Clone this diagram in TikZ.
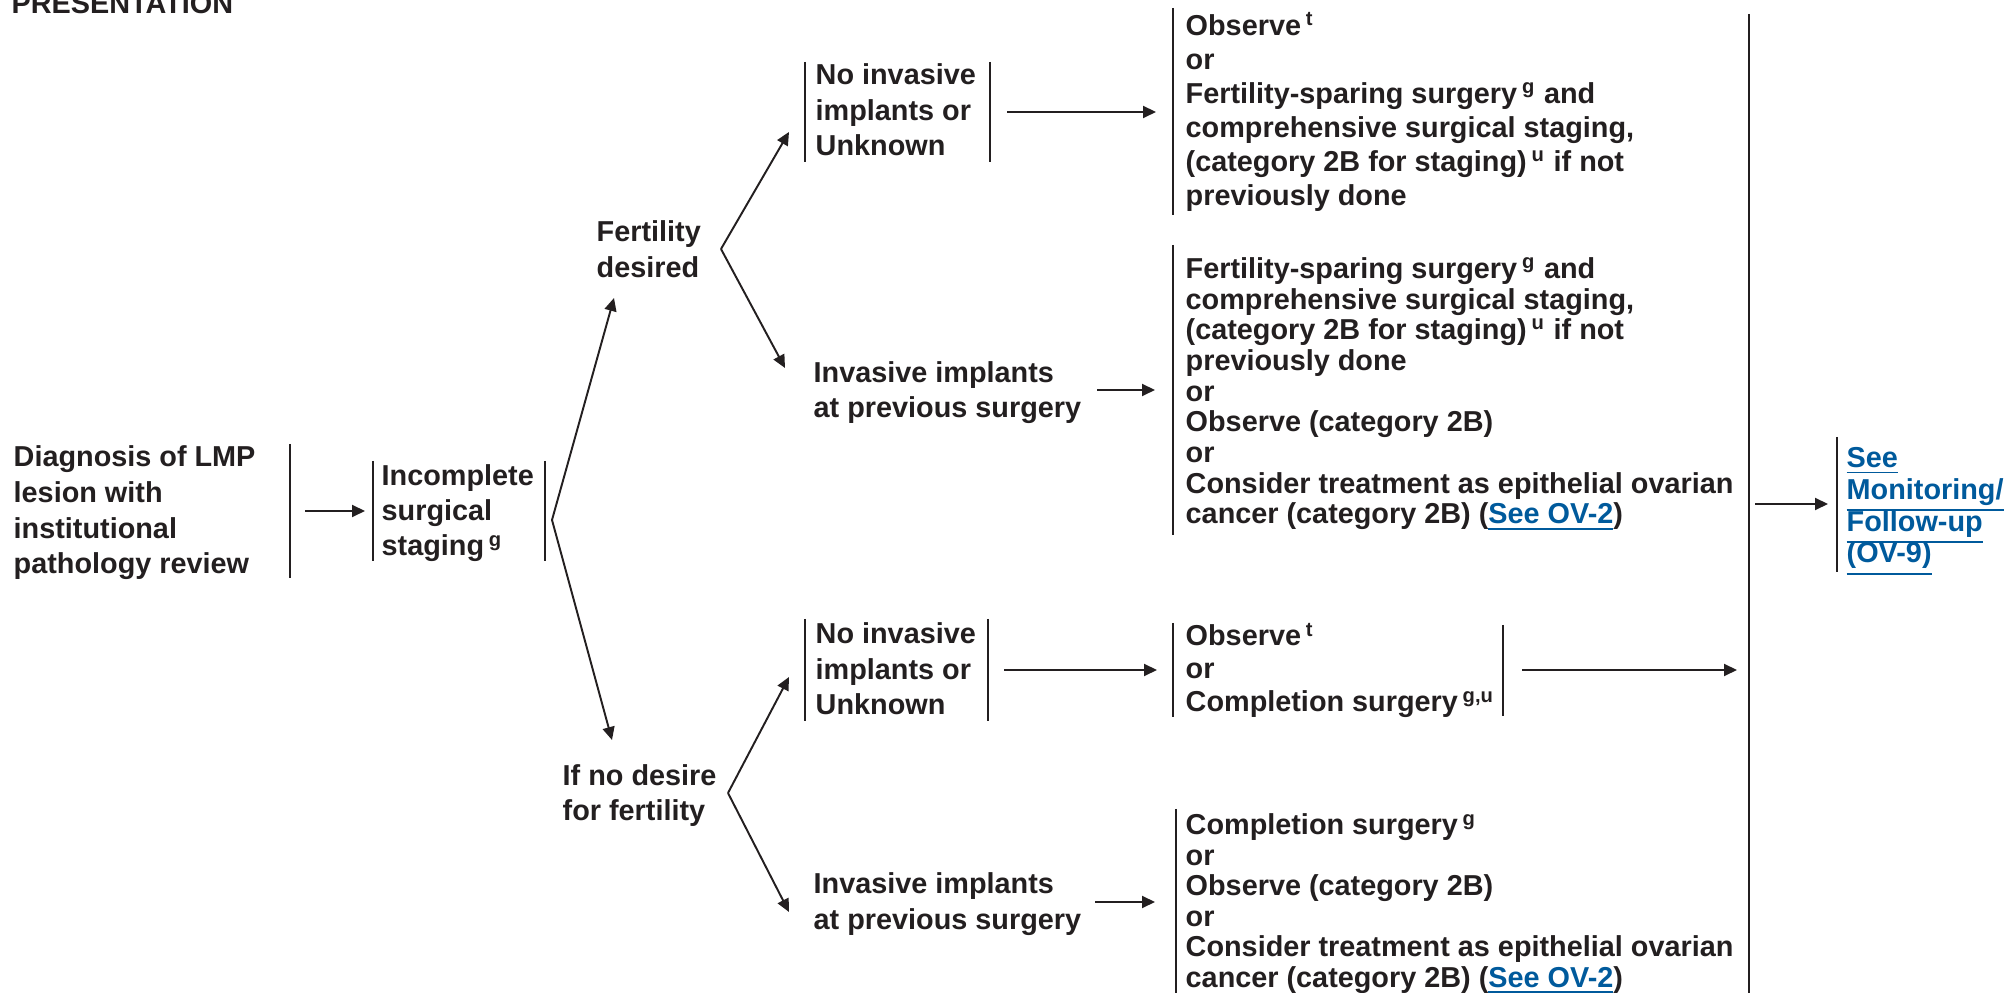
\documentclass[tikz,border=0pt]{standalone}
\usepackage{fontspec}
\setmainfont{Liberation Sans}
\usetikzlibrary{arrows.meta}
\definecolor{text_dark}{RGB}{35,31,32}
\definecolor{link_blue}{RGB}{0,90,156}
\newcommand{\ovlink}[1]{\textcolor{link_blue}{\underline{#1}}}
\lineskiplimit=-5pt

\begin{document}
\begin{tikzpicture}[x=0.1mm,y=-0.1mm,>={Triangle[length=1.3mm,width=1.2mm]}]
    \tikzset{txt/.style={text=text_dark, anchor=base west, align=left, inner sep=0pt,
        font=\bfseries\fontsize{8.2}{#1}\selectfont}, txt/.default=10.1}
    \tikzstyle{barline}=[draw=text_dark, line width=0.75pt]
    \tikzstyle{arr}=[draw=text_dark, line width=0.55pt, ->]

    \useasboundingbox (0,0) rectangle (2007,993);

    % text blocks, placed by the baseline of their last line
    \node[txt] (title) at (11,14) {PRESENTATION};
    \node[txt=10.24] (diag) at (13,574) {Diagnosis of LMP\\lesion with\\institutional\\pathology review};
    \node[txt] (inc) at (381,556) {Incomplete\\surgical\\staging\,\textsuperscript{g}};
    \node[txt=10.5] (fd) at (596,278) {Fertility\\desired};
    \node[txt=10.24] (nd) at (562,821) {If no desire\\for fertility};

    \node[txt] (ni1) at (815,156) {No invasive\\implants or\\Unknown};
    \node[txt=10.24] (inv1) at (813,418) {Invasive implants\\at previous surgery};
    \node[txt=10.24] (ni2) at (815,715) {No invasive\\implants or\\Unknown};
    \node[txt=10.5] (inv2) at (813,930) {Invasive implants\\at previous surgery};

    \node[txt=9.73] (obs1) at (1185,206) {Observe\,\textsuperscript{t}\\or\\Fertility-sparing surgery\,\textsuperscript{g} and\\comprehensive surgical staging,\\(category 2B for staging)\,\textsuperscript{u} if not\\previously done};
    \node[txt=8.73] (fsp) at (1185,524) {Fertility-sparing surgery\,\textsuperscript{g} and\\comprehensive surgical staging,\\(category 2B for staging)\,\textsuperscript{u} if not\\previously done\\or\\Observe (category 2B)\\or\\Consider treatment as epithelial ovarian\\cancer (category 2B) (\ovlink{See OV-2})};
    \node[txt=9.39] (obs2) at (1185,712) {Observe\,\textsuperscript{t}\\or\\Completion surgery\,\textsuperscript{g,u}};
    \node[txt=8.65] (comp) at (1185,987) {Completion surgery\,\textsuperscript{g}\\or\\Observe (category 2B)\\or\\Consider treatment as epithelial ovarian\\cancer (category 2B) (\ovlink{See OV-2})};

    \node[txt=9.1] (see) at (1846,563) {\ovlink{See}\\\ovlink{Monitoring/}\\\ovlink{Follow-up}\\\ovlink{(OV-9)}};

    % side bars
    \foreach \x/\ya/\yb in {290/444/578, 373/461/561, 545/461/561,
        805/62/162, 990/62/162, 805/619/721, 988/619/721,
        1173/8/215, 1173/245/535, 1173/623/717, 1503/625/716, 1176/809/993,
        1749/14/993, 1837/437/572}
      \draw[barline] (\x,\ya) -- (\x,\yb);

    \coordinate (diag_out) at (305,511);  \coordinate (inc_in) at (365,511);
    \coordinate (fork_a) at (552,520);    \coordinate (fd_in) at (614,298);   \coordinate (nd_in) at (612,740);
    \coordinate (fork_b) at (721,249);    \coordinate (ni1_in) at (789,132);  \coordinate (inv1_in) at (785,368);
    \coordinate (fork_c) at (728,793);    \coordinate (ni2_in) at (789,677);  \coordinate (inv2_in) at (789,912);
    \coordinate (ni1_out) at (1007,112);  \coordinate (obs1_in) at (1156,112);
    \coordinate (inv1_out) at (1097,390); \coordinate (fsp_in) at (1155,390);
    \coordinate (ni2_out) at (1004,670);  \coordinate (obs2_in) at (1157,670);
    \coordinate (inv2_out) at (1095,902); \coordinate (comp_in) at (1155,902);
    \coordinate (obs2_out) at (1522,670); \coordinate (merge_in) at (1737,670);
    \coordinate (merge_out) at (1755,504); \coordinate (see_in) at (1828,504);

    \path
     (diag_out) edge[arr] (inc_in)
     (fork_a) edge[arr] (fd_in)
     (fork_a) edge[arr] (nd_in)
     (fork_b) edge[arr] (ni1_in)
     (fork_b) edge[arr] (inv1_in)
     (fork_c) edge[arr] (ni2_in)
     (fork_c) edge[arr] (inv2_in)
     (ni1_out) edge[arr] (obs1_in)
     (inv1_out) edge[arr] (fsp_in)
     (ni2_out) edge[arr] (obs2_in)
     (inv2_out) edge[arr] (comp_in)
     (obs2_out) edge[arr] (merge_in)
     (merge_out) edge[arr] (see_in);
\end{tikzpicture}
\end{document}
